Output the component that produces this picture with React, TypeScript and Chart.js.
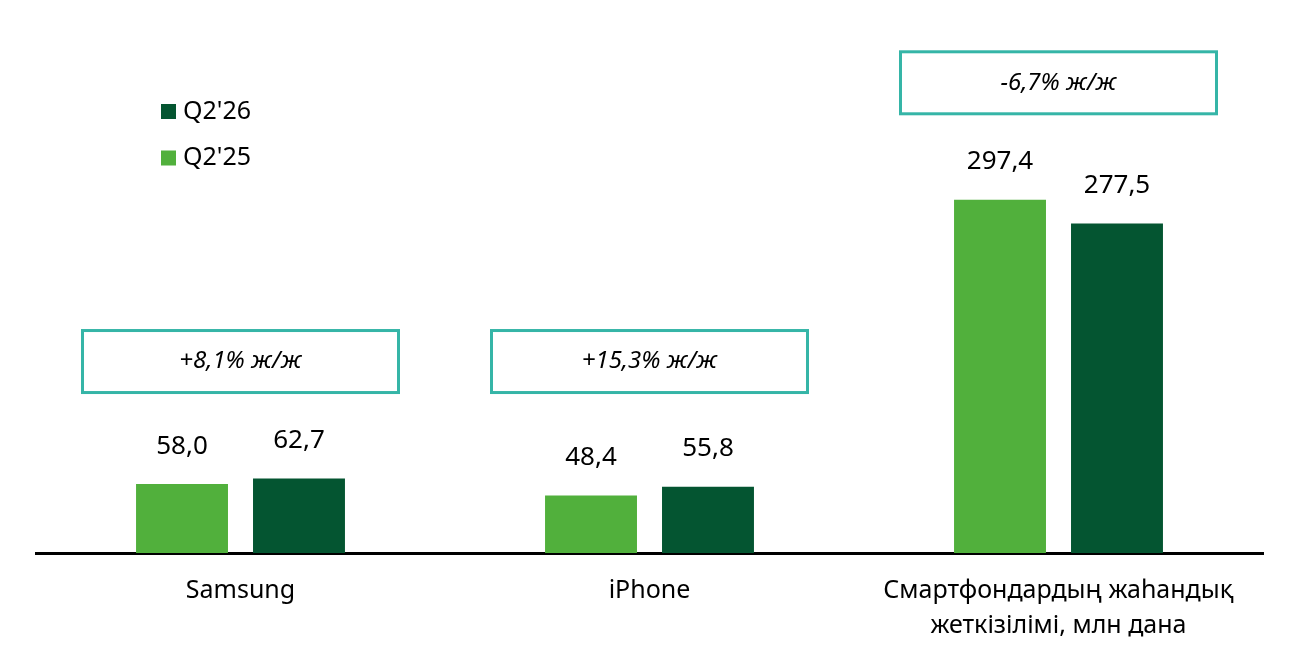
import React, { useEffect, useRef } from "react";
import { Chart, registerables } from "chart.js";

Chart.register(...registerables);

const categories: (string | string[])[] = [
  "Samsung",
  "iPhone",
  ["Смартфондардың жаһандық", "жеткізілімі, млн дана"],
];
const seriesNames = ["Q2'25", "Q2'26"];
const q225Values = [58.0, 48.4, 297.4];
const q226Values = [62.7, 55.8, 277.5];
const growthNotes = ["+8,1% ж/ж", "+15,3% ж/ж", "-6,7% ж/ж"];

const LIGHT = "#51B03C";
const DARK = "#045531";
const TEAL = "#35B5A7";
const FONT = "'Noto Sans', 'DejaVu Sans', sans-serif";

const fmt = (v: number) => v.toFixed(1).replace(".", ",");

const overlayPlugin = {
  id: "overlay",
  afterDatasetsDraw(chart: any) {
    const ctx: CanvasRenderingContext2D = chart.ctx;
    const yScale = chart.scales.y;
    const xScale = chart.scales.x;
    ctx.save();
    // value labels
    ctx.fillStyle = "#000";
    ctx.font = `26px ${FONT}`;
    ctx.textAlign = "center";
    ctx.textBaseline = "middle";
    chart.data.datasets.forEach((ds: any, di: number) => {
      const meta = chart.getDatasetMeta(di);
      meta.data.forEach((bar: any, i: number) => {
        ctx.fillText(fmt(ds.data[i]), bar.x, bar.y - 38);
      });
    });
    // growth boxes
    const bottoms = categories.map((_, i) => {
      const m = Math.max(q225Values[i], q226Values[i]);
      return yScale.getPixelForValue(m) - 86;
    });
    const aligned = bottoms.map((b) =>
      Math.min(...bottoms.filter((o) => Math.abs(o - b) < 30))
    );
    const bw = 316;
    const bh = 62;
    categories.forEach((_, i) => {
      const cx = xScale.getPixelForValue(i);
      const bottom = aligned[i];
      ctx.lineWidth = 3;
      ctx.strokeStyle = TEAL;
      ctx.strokeRect(cx - bw / 2, bottom - bh, bw, bh);
      ctx.fillStyle = "#000";
      ctx.font = `italic 24px ${FONT}`;
      ctx.fillText(growthNotes[i], cx, bottom - bh / 2);
    });
    // legend (reverse order)
    const order = [1, 0];
    order.forEach((di, row) => {
      const ds = chart.data.datasets[di];
      const cy = 111.5 + row * 46.5;
      ctx.fillStyle = ds.backgroundColor;
      ctx.fillRect(161, cy - 7.5, 15, 15);
      ctx.fillStyle = "#000";
      ctx.font = `25px ${FONT}`;
      ctx.textAlign = "left";
      ctx.fillText(ds.label, 183, cy);
      ctx.textAlign = "center";
    });
    ctx.restore();
  },
};

export default function App() {
  const ref = useRef<HTMLCanvasElement>(null);
  useEffect(() => {
    document.body.style.margin = "0";
    const chart = new Chart(ref.current!, {
      type: "bar",
      data: {
        labels: categories,
        datasets: [
          {
            label: seriesNames[0],
            data: q225Values,
            backgroundColor: LIGHT,
            categoryPercentage: 0.572,
            barPercentage: 0.786,
          },
          {
            label: seriesNames[1],
            data: q226Values,
            backgroundColor: DARK,
            categoryPercentage: 0.572,
            barPercentage: 0.786,
          },
        ],
      },
      options: {
        animation: false,
        responsive: true,
        maintainAspectRatio: false,
        layout: { padding: { left: 36, right: 36, top: 34, bottom: 0 } },
        plugins: {
          legend: { display: false },
          tooltip: { enabled: false },
        },
        scales: {
          x: {
            grid: { display: false, drawTicks: false },
            border: { display: true, color: "#000", width: 3 },
            ticks: {
              color: "#000",
              font: { family: FONT, size: 25, lineHeight: 1.4 },
              padding: 20,
              maxRotation: 0,
              autoSkip: false,
            },
            afterFit: (s: any) => {
              s.height = 96;
            },
          },
          y: {
            display: false,
            min: 0,
            max: 437,
          },
        },
      },
      plugins: [overlayPlugin],
    });
    return () => chart.destroy();
  }, []);
  return (
    <div style={{ position: "absolute", left: 0, top: 0, width: 1299, height: 649 }}>
      <canvas ref={ref} />
    </div>
  );
}
